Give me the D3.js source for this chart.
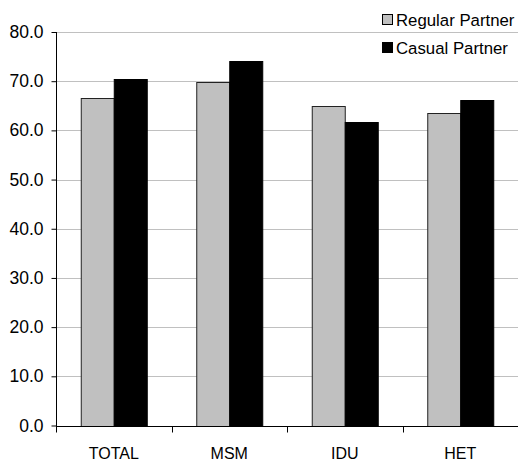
<!DOCTYPE html>
<html><head><meta charset="utf-8">
<script src="https://cdn.jsdelivr.net/npm/d3@7"></script>
<style>body{margin:0;background:#fff}svg{display:block}text{font-family:"Liberation Sans",Arial,sans-serif;fill:#000}</style>
</head><body>
<svg id="c" width="518" height="463"></svg>
<script>
const categories = ["TOTAL","MSM","IDU","HET"];
const seriesNames = ["Regular Partner","Casual Partner"];
const regular = [66.6, 69.8, 64.9, 63.6];
const casual = [70.5, 74.2, 61.7, 66.1];
const yTicks = [0,10,20,30,40,50,60,70,80];
const colors = ["#c0c0c0","#000000"];

const FS = 16;
const svg = d3.select("#c");
const L = 56, R = 518, T = 32, B = 425.5;
const x = d3.scaleBand().domain(categories).range([L, R]);
const y = d3.scaleLinear().domain([0,80]).range([B, T]);
const inner = d3.scaleBand().domain(seriesNames).range([0, 66]);
const groupOffset = (x.bandwidth() - 66) / 2;

// gridlines
svg.append("g").selectAll("line").data(yTicks.filter(d=>d>0)).join("line")
  .attr("x1", L).attr("x2", R).attr("y1", d=>Math.round(y(d))+0.5).attr("y2", d=>Math.round(y(d))+0.5)
  .attr("stroke", "#c0c0c0").attr("stroke-width", 1);

const data = categories.map((c,i)=>({c, vals:[regular[i], casual[i]]}));
const g = svg.append("g").selectAll("g").data(data).join("g")
  .attr("transform", d=>`translate(${x(d.c)+groupOffset},0)`);
g.selectAll("rect").data(d=>d.vals.map((v,j)=>({v,s:seriesNames[j],j}))).join("rect")
  .attr("x", d=>inner(d.s)+0.5).attr("width", inner.bandwidth())
  .attr("y", d=>Math.round(y(d.v))+0.5).attr("height", d=>Math.round(B)-Math.round(y(d.v)))
  .attr("fill", d=>colors[d.j]).attr("stroke", d=>d.j===0?"#222":"#000").attr("stroke-width", 1);

// y axis
const ya = svg.append("g").attr("transform", `translate(${L+0.5},0)`)
  .call(d3.axisLeft(y).tickValues(yTicks).tickFormat(d3.format(".1f")).tickSize(5).tickPadding(8));
ya.select(".domain").attr("d", `M0,${T}V${B+6}`);
ya.selectAll("line").attr("stroke", "#000");
ya.selectAll("text").attr("font-size", 17.5).style("font-family", '"Liberation Sans",Arial,sans-serif');

// x axis
const xa = svg.append("g").attr("transform", `translate(0,${Math.round(B)+0.5})`)
  .call(d3.axisBottom(x).tickSize(0).tickPadding(21));
xa.select(".domain").attr("d", `M${L},0H${R}`).attr("stroke", "#000");
xa.selectAll("text").attr("font-size", FS).style("font-family", '"Liberation Sans",Arial,sans-serif');
const bounds = categories.map(c=>x(c)).concat([R]);
xa.append("g").selectAll("line").data(bounds).join("line")
  .attr("x1", d=>Math.round(d)+0.5).attr("x2", d=>Math.round(d)+0.5).attr("y1", 0).attr("y2", 6).attr("stroke", "#000");

// legend
const lg = svg.append("g").selectAll("g").data(seriesNames).join("g")
  .attr("transform", (d,i)=>`translate(382,${14+i*28})`);
lg.append("rect").attr("x", 0.5).attr("y", 0.5).attr("width", 10).attr("height", 10)
  .attr("fill", (d,i)=>colors[i]).attr("stroke", "#000");
lg.append("text").attr("x", 14).attr("y", 12).attr("font-size", 16.8).text(d=>d);
</script>
</body></html>
